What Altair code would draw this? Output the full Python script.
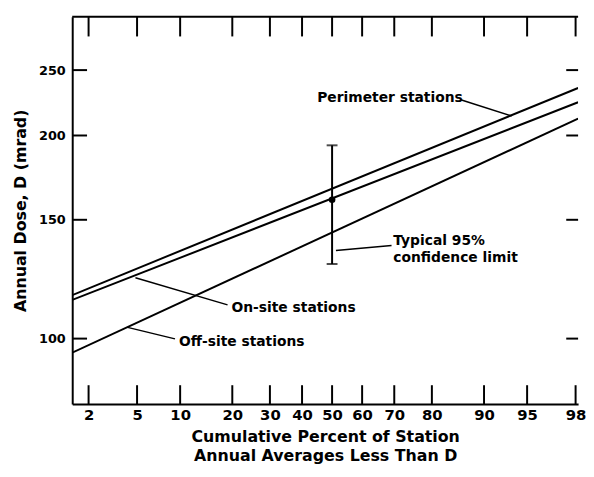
import altair as alt
import pandas as pd
from statistics import NormalDist

# ---- data ----
pct_ends = [1.42, 98.10]                 # left / right edge of the plot, cumulative %
perimeter_dose = [116.0, 235.2]
onsite_dose = [114.1, 224.0]
offsite_dose = [95.3, 211.8]

x_ticks_pct = [2, 5, 10, 20, 30, 40, 50, 60, 70, 80, 90, 95, 98]
y_ticks_dose = [100, 150, 200, 250]
y_domain = [80, 300]

# typical 95% confidence limit at 50 %
ci_pct = 50
ci_mid = 160.6
ci_low = 129.0
ci_high = 193.4

# annotation labels (left anchor, cumulative %, dose)
label_text = ["Perimeter stations", "Typical 95%", "confidence limit", "On-site stations", "Off-site stations"]
label_pct = [45.0, 69.7, 69.7, 19.8, 9.83]
label_dose = [227.0, 139.3, 131.6, 111.1, 98.9]

# leader lines (from, to)
leader_p1 = [86.1, 51.3, 4.86, 4.23]
leader_d1 = [226.0, 135.1, 123.1, 103.9]
leader_p2 = [93.5, 69.2, 18.9, 9.26]
leader_d2 = [213.8, 137.4, 112.2, 99.9]

W, H = 512, 392
FONT = "DejaVu Sans"

nd = NormalDist()
x_domain = [nd.inv_cdf(p / 100) for p in pct_ends]
x_tick_z = [nd.inv_cdf(p / 100) for p in x_ticks_pct]

rows = []
for name, doses in [("Perimeter", perimeter_dose), ("On-site", onsite_dose), ("Off-site", offsite_dose)]:
    for p, d in zip(pct_ends, doses):
        rows.append({"series": name, "pct": p, "dose": d})
lines_df = pd.DataFrame(rows)

xscale = alt.Scale(domain=x_domain, nice=False, zero=False)
yscale = alt.Scale(type="log", domain=y_domain, nice=False, zero=False)

x_axis = alt.Axis(
    values=x_tick_z,
    labelExpr="format(cumulativeNormal(datum.value) * 100, '.0f')",
    ticks=False, tickSize=0, grid=False,
    domain=True, domainColor="black", domainWidth=2,
    labelFont=FONT, labelFontSize=15, labelFontWeight="bold", labelColor="black", labelPadding=4,
    title=["Cumulative Percent of Station", "Annual Averages Less Than D"],
    titleFont=FONT, titleFontSize=16, titleFontWeight="bold", titleColor="black",
    titlePadding=6, titleLineHeight=19,
)
y_axis = alt.Axis(
    values=y_ticks_dose,
    ticks=False, tickSize=0, grid=False,
    domain=True, domainColor="black", domainWidth=2,
    labelFont=FONT, labelFontSize=13, labelFontWeight="bold", labelColor="black", labelPadding=7,
    title="Annual Dose, D (mrad)",
    titleFont=FONT, titleFontSize=16, titleFontWeight="bold", titleColor="black",
    titlePadding=10,
)

base_lines = alt.Chart(lines_df).transform_calculate(
    z="quantileNormal(datum.pct / 100)"
).mark_line(color="black", strokeWidth=2, clip=True).encode(
    x=alt.X("z:Q", scale=xscale, axis=x_axis),
    y=alt.Y("dose:Q", scale=yscale, axis=y_axis),
    detail="series:N",
)

xt_df = pd.DataFrame({"pct": x_ticks_pct})
yt_df = pd.DataFrame({"dose": y_ticks_dose})

bottom_ticks = alt.Chart(xt_df).transform_calculate(
    z="quantileNormal(datum.pct / 100)"
).mark_rule(color="black", strokeWidth=2).encode(
    x=alt.X("z:Q", scale=xscale), y=alt.value(H), y2=alt.value(H - 19)
)
top_ticks = alt.Chart(xt_df).transform_calculate(
    z="quantileNormal(datum.pct / 100)"
).mark_rule(color="black", strokeWidth=2).encode(
    x=alt.X("z:Q", scale=xscale), y=alt.value(0), y2=alt.value(20)
)
left_ticks = alt.Chart(yt_df).mark_rule(color="black", strokeWidth=2).encode(
    y=alt.Y("dose:Q", scale=yscale), x=alt.value(0), x2=alt.value(15)
)
right_ticks = alt.Chart(yt_df).mark_rule(color="black", strokeWidth=2).encode(
    y=alt.Y("dose:Q", scale=yscale), x=alt.value(W - 12), x2=alt.value(W)
)
top_border = alt.Chart(pd.DataFrame({"a": [0]})).mark_rule(color="black", strokeWidth=2).encode(
    x=alt.value(0), x2=alt.value(W), y=alt.value(0)
)

ci_df = pd.DataFrame({"pct": [ci_pct], "mid": [ci_mid], "low": [ci_low], "high": [ci_high]})
ci_base = alt.Chart(ci_df).transform_calculate(z="quantileNormal(datum.pct / 100)")
ci_rule = ci_base.mark_rule(color="black", strokeWidth=2).encode(
    x=alt.X("z:Q", scale=xscale), y=alt.Y("low:Q", scale=yscale), y2="high:Q"
)
ci_cap_low = ci_base.mark_tick(color="black", thickness=2, size=11, orient="horizontal").encode(
    x=alt.X("z:Q", scale=xscale), y=alt.Y("low:Q", scale=yscale)
)
ci_cap_high = ci_base.mark_tick(color="black", thickness=2, size=11, orient="horizontal").encode(
    x=alt.X("z:Q", scale=xscale), y=alt.Y("high:Q", scale=yscale)
)
ci_dot = ci_base.mark_point(color="black", filled=True, opacity=1, size=45).encode(
    x=alt.X("z:Q", scale=xscale), y=alt.Y("mid:Q", scale=yscale)
)

lead_df = pd.DataFrame({"p1": leader_p1, "d1": leader_d1, "p2": leader_p2, "d2": leader_d2})
leaders = alt.Chart(lead_df).transform_calculate(
    z1="quantileNormal(datum.p1 / 100)", z2="quantileNormal(datum.p2 / 100)"
).mark_rule(color="black", strokeWidth=1.5).encode(
    x=alt.X("z1:Q", scale=xscale), x2="z2:Q",
    y=alt.Y("d1:Q", scale=yscale), y2="d2:Q",
)

lab_df = pd.DataFrame({"text": label_text, "pct": label_pct, "dose": label_dose})
labels = alt.Chart(lab_df).transform_calculate(
    z="quantileNormal(datum.pct / 100)"
).mark_text(align="left", baseline="middle", font=FONT, fontSize=14, fontWeight="bold",
            color="black").encode(
    x=alt.X("z:Q", scale=xscale), y=alt.Y("dose:Q", scale=yscale), text="text:N"
)

chart = alt.layer(
    base_lines, bottom_ticks, top_ticks, left_ticks, right_ticks, top_border,
    ci_rule, ci_cap_low, ci_cap_high, ci_dot, leaders, labels,
).properties(
    width=W, height=H,
    padding={"left": 4, "top": 5, "right": 0, "bottom": 2},
    background="white",
).configure_view(stroke=None)

chart.save("out.html", embed_options={"renderer": "svg", "actions": False})
